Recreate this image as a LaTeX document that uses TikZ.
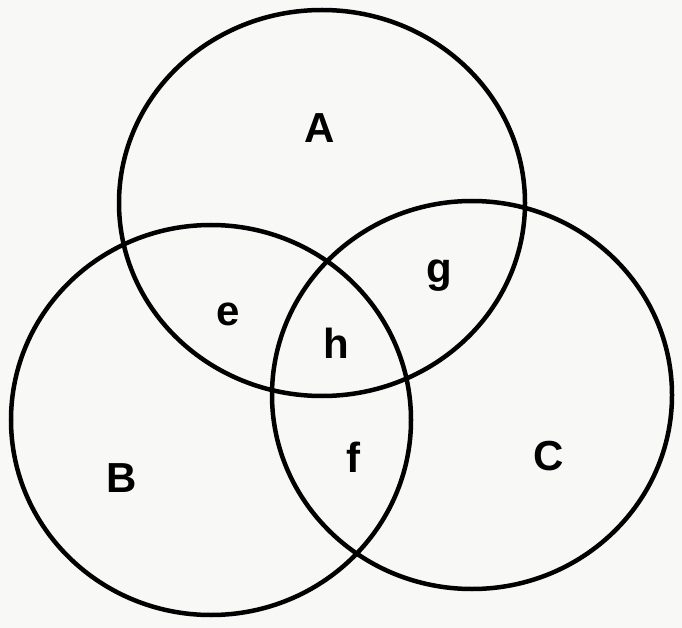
\documentclass[tikz,border=0pt]{standalone}
\usepackage{fontspec}
\setmainfont{Liberation Sans}
\definecolor{paper}{RGB}{248,248,246}
\begin{document}
\begin{tikzpicture}[x=1pt,y=-1pt,
  venn/.style={line width=4.5pt, draw=black},
  lbl/.style={font=\fontsize{42}{42}\selectfont\bfseries, anchor=base, inner sep=0pt}]
\fill[paper] (0,0) rectangle (682,628);
\useasboundingbox (0,0) rectangle (682,628);
\draw[venn] (322,203) ellipse [x radius=203pt, y radius=193pt];
\draw[venn] (211,420) ellipse [x radius=200pt, y radius=195pt];
\draw[venn] (472,395) ellipse [x radius=200pt, y radius=194pt];
\node[lbl] (A) at (320,143) {A};
\node[lbl] (B) at (122,492) {B};
\node[lbl] (C) at (549,470) {C};
\node[lbl] (e) at (228,325) {e};
\node[lbl] (g) at (439,282) {g};
\node[lbl] (h) at (336,358) {h};
\node[lbl] (f) at (353,472) {f};
\end{tikzpicture}
\end{document}
